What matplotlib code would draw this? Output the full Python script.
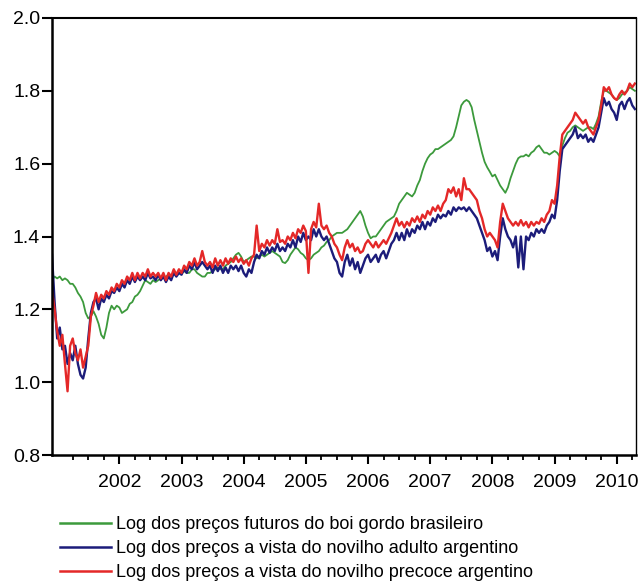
import numpy as np
import matplotlib
matplotlib.use("Agg")
import matplotlib.pyplot as plt
from matplotlib.ticker import FixedLocator, NullFormatter

plt.rcParams['font.family'] = ['Liberation Sans', 'DejaVu Sans']

# semi-monthly observations starting December 2000
start_year = 2000 + 11 / 12

green = [
    1.28, 1.29, 1.285, 1.29, 1.28, 1.285, 1.28, 1.27, 1.27, 1.26,
    1.245, 1.235, 1.22, 1.19, 1.175, 1.18, 1.195, 1.18, 1.16, 1.13,
    1.12, 1.15, 1.19, 1.21, 1.20, 1.21, 1.205, 1.19, 1.195, 1.20,
    1.215, 1.22, 1.235, 1.24, 1.25, 1.265, 1.28, 1.275, 1.27, 1.28,
    1.275, 1.28, 1.285, 1.29, 1.29, 1.295, 1.29, 1.295, 1.30, 1.30,
    1.30, 1.305, 1.30, 1.30, 1.31, 1.31, 1.30, 1.295, 1.29, 1.29,
    1.30, 1.30, 1.305, 1.31, 1.315, 1.31, 1.31, 1.32, 1.325, 1.33,
    1.34, 1.35, 1.355, 1.345, 1.33, 1.335, 1.34, 1.345, 1.345, 1.34,
    1.345, 1.35, 1.345, 1.35, 1.355, 1.36, 1.355, 1.35, 1.345, 1.33,
    1.327, 1.335, 1.35, 1.36, 1.37, 1.365, 1.355, 1.35, 1.34, 1.335,
    1.34, 1.35, 1.355, 1.36, 1.37, 1.375, 1.385, 1.39, 1.40, 1.405,
    1.41, 1.41, 1.41, 1.415, 1.42, 1.43, 1.44, 1.45, 1.46, 1.47,
    1.455, 1.43, 1.41, 1.395, 1.40, 1.40, 1.41, 1.42, 1.43, 1.44,
    1.445, 1.45, 1.455, 1.47, 1.49, 1.50, 1.51, 1.52, 1.515, 1.51,
    1.52, 1.54, 1.555, 1.58, 1.60, 1.615, 1.625, 1.63, 1.64, 1.64,
    1.645, 1.65, 1.655, 1.66, 1.665, 1.675, 1.70, 1.73, 1.76, 1.77,
    1.775, 1.77, 1.755, 1.72, 1.69, 1.66, 1.63, 1.605, 1.59, 1.578,
    1.565, 1.57, 1.555, 1.54, 1.53, 1.52, 1.535, 1.56, 1.58, 1.60,
    1.615, 1.62, 1.62, 1.625, 1.62, 1.63, 1.635, 1.645, 1.65, 1.64,
    1.63, 1.63, 1.625, 1.63, 1.635, 1.63, 1.62, 1.65, 1.67, 1.685,
    1.69, 1.70, 1.705, 1.70, 1.695, 1.69, 1.695, 1.70, 1.70, 1.695,
    1.71, 1.73, 1.77, 1.80, 1.80, 1.795, 1.79, 1.78, 1.775, 1.78,
    1.79, 1.795, 1.80, 1.81, 1.805, 1.80,
]

blue = [
    1.35, 1.22, 1.12, 1.15, 1.09, 1.10, 1.05, 1.08, 1.06, 1.10,
    1.05, 1.02, 1.01, 1.04, 1.12, 1.19, 1.22, 1.23, 1.20, 1.23,
    1.22, 1.24, 1.23, 1.25, 1.245, 1.26, 1.25, 1.27, 1.26, 1.28,
    1.27, 1.29, 1.275, 1.29, 1.28, 1.29, 1.28, 1.30, 1.285, 1.29,
    1.28, 1.295, 1.28, 1.29, 1.275, 1.29, 1.28, 1.30, 1.29, 1.30,
    1.295, 1.31, 1.30, 1.32, 1.31, 1.33, 1.31, 1.32, 1.33, 1.32,
    1.31, 1.32, 1.30, 1.32, 1.305, 1.32, 1.30, 1.315, 1.30, 1.32,
    1.31, 1.32, 1.305, 1.32, 1.30, 1.29, 1.31, 1.30, 1.33, 1.35,
    1.34, 1.36, 1.35, 1.37, 1.355, 1.37, 1.36, 1.38, 1.36, 1.37,
    1.36, 1.38, 1.37, 1.39, 1.37, 1.40, 1.385, 1.41, 1.39, 1.40,
    1.39, 1.42, 1.40, 1.42, 1.40, 1.39, 1.40, 1.38, 1.36, 1.34,
    1.33, 1.30, 1.29, 1.33, 1.35, 1.32, 1.34, 1.31, 1.33, 1.30,
    1.32, 1.34, 1.35, 1.33, 1.34, 1.35, 1.33, 1.35, 1.36, 1.34,
    1.36, 1.38, 1.39, 1.41, 1.39, 1.41, 1.39, 1.42, 1.40, 1.42,
    1.41, 1.43, 1.42, 1.44, 1.42, 1.44, 1.43, 1.45, 1.44, 1.46,
    1.45, 1.46, 1.455, 1.47, 1.46, 1.48, 1.47, 1.48, 1.475, 1.48,
    1.47, 1.48, 1.47, 1.46, 1.45, 1.43, 1.41, 1.39, 1.36, 1.37,
    1.345, 1.36, 1.335, 1.40, 1.45, 1.42, 1.40, 1.39, 1.37, 1.40,
    1.315, 1.40, 1.31, 1.40, 1.39, 1.41, 1.40, 1.42, 1.41, 1.42,
    1.41, 1.43, 1.44, 1.46, 1.45, 1.50, 1.58, 1.64, 1.65, 1.66,
    1.67, 1.68, 1.70, 1.67, 1.68, 1.67, 1.68, 1.66, 1.67, 1.66,
    1.68, 1.70, 1.74, 1.78, 1.76, 1.77, 1.75, 1.74, 1.72, 1.76,
    1.77, 1.75, 1.77, 1.78, 1.76, 1.75,
]

red = [
    1.25, 1.20, 1.14, 1.10, 1.13, 1.05, 0.975, 1.10, 1.12, 1.08,
    1.06, 1.09, 1.04, 1.07, 1.10, 1.18, 1.21, 1.245, 1.22, 1.24,
    1.23, 1.25, 1.24, 1.26, 1.25, 1.27, 1.26, 1.28, 1.27, 1.29,
    1.28, 1.30, 1.28, 1.30, 1.285, 1.30, 1.29, 1.31, 1.29, 1.30,
    1.29, 1.30, 1.285, 1.30, 1.28, 1.30, 1.29, 1.31, 1.295, 1.31,
    1.30, 1.32, 1.31, 1.33, 1.32, 1.34, 1.32, 1.33, 1.36, 1.33,
    1.32, 1.33, 1.315, 1.34, 1.32, 1.335, 1.32, 1.34, 1.325, 1.34,
    1.33, 1.345, 1.33, 1.34, 1.325, 1.335, 1.32, 1.34, 1.35, 1.43,
    1.36, 1.38, 1.37, 1.39, 1.375, 1.39, 1.38, 1.42, 1.385, 1.39,
    1.38, 1.40, 1.39, 1.41, 1.395, 1.42, 1.41, 1.43, 1.415, 1.30,
    1.42, 1.44, 1.425, 1.49, 1.43, 1.42, 1.43, 1.41, 1.40, 1.38,
    1.37, 1.35, 1.335, 1.37, 1.39, 1.37, 1.38, 1.36, 1.37, 1.355,
    1.36, 1.38, 1.39, 1.38, 1.37, 1.385, 1.37, 1.38, 1.39, 1.38,
    1.395, 1.41, 1.43, 1.45, 1.43, 1.44, 1.425, 1.44, 1.43, 1.45,
    1.44, 1.455, 1.44, 1.46, 1.45, 1.47, 1.46, 1.48, 1.47, 1.485,
    1.47, 1.49, 1.50, 1.53, 1.52, 1.535, 1.51, 1.53, 1.50, 1.56,
    1.53, 1.53, 1.52, 1.51, 1.50, 1.47, 1.45, 1.42, 1.40, 1.41,
    1.40, 1.39, 1.37, 1.44, 1.49, 1.47, 1.45, 1.44, 1.43, 1.44,
    1.43, 1.445, 1.43, 1.44, 1.425, 1.44, 1.43, 1.44, 1.435, 1.45,
    1.44, 1.46, 1.47, 1.50, 1.49, 1.54, 1.62, 1.68, 1.69, 1.70,
    1.71, 1.72, 1.74, 1.73, 1.72, 1.71, 1.72, 1.70, 1.69, 1.68,
    1.70, 1.72, 1.76, 1.81, 1.80, 1.81, 1.79, 1.78, 1.775, 1.79,
    1.80, 1.79, 1.80, 1.82, 1.81, 1.82,
]

labels = [
    "Log dos preços futuros do boi gordo brasileiro",
    "Log dos preços a vista do novilho adulto argentino",
    "Log dos preços a vista do novilho precoce argentino",
]
year_ticks = [2002, 2003, 2004, 2005, 2006, 2007, 2008, 2009, 2010]
y_ticks = [0.8, 1.0, 1.2, 1.4, 1.6, 1.8, 2.0]

colors = ['#3c9a3c', '#1c1c7a', '#e42828']

x = start_year + np.arange(len(green)) / 24

fig = plt.figure(figsize=(6.39, 5.83), dpi=100)
ax = fig.add_axes([52 / 639, 1 - 455 / 583, (636 - 52) / 639, (455 - 18) / 583])

l1, = ax.plot(x, green, color=colors[0], lw=1.3, label=labels[0])
l2, = ax.plot(x, blue, color=colors[1], lw=1.7, label=labels[1])
l3, = ax.plot(x, red, color=colors[2], lw=1.7, label=labels[2])

ax.set_xlim(start_year, 2010.31)
ax.set_ylim(0.8, 2.0)

ax.xaxis.set_major_locator(FixedLocator(year_ticks))
ax.set_xticklabels([str(y) for y in year_ticks])
minor = [y + q for y in range(2001, 2011) for q in (0.25, 0.5, 0.75)]
ax.xaxis.set_minor_locator(FixedLocator(minor))
ax.xaxis.set_minor_formatter(NullFormatter())
ax.set_yticks(y_ticks)
ax.set_yticklabels([f"{v:.1f}" for v in y_ticks])

ax.tick_params(axis='y', which='major', direction='out', length=7, width=1.5,
               labelsize=14, pad=1.5)
ax.tick_params(axis='x', which='major', direction='out', length=6.5, width=1.5,
               labelsize=14, pad=7)
ax.tick_params(axis='x', which='minor', direction='out', length=3.5, width=1.3)

ax.spines['left'].set_linewidth(1.8)
ax.spines['bottom'].set_linewidth(1.8)
ax.spines['top'].set_linewidth(1.5)
ax.spines['right'].set_linewidth(1.0)

fig.legend(handles=[l1, l2, l3], labels=labels, loc='upper left',
           bbox_to_anchor=(60 / 639, 1 - 516 / 583), frameon=False,
           fontsize=13, handlelength=2.8, handletextpad=0.3,
           labelspacing=0.4, borderpad=0, borderaxespad=0)
for h in fig.legends[0].get_lines():
    h.set_linewidth(1.8)

fig.savefig("out.png", dpi=100)
